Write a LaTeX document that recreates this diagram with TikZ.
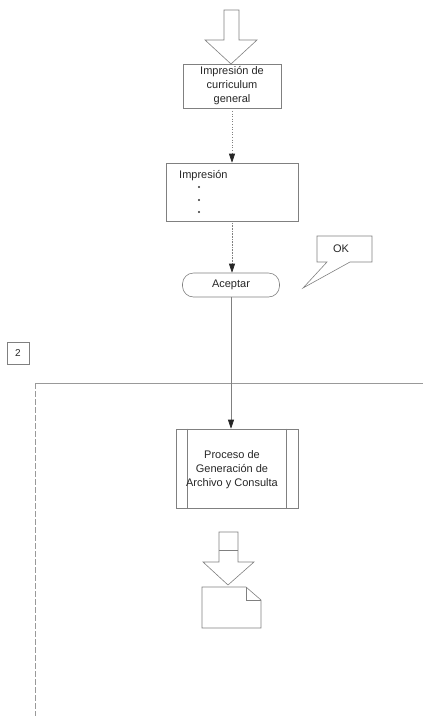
\documentclass[tikz,border=0pt]{standalone}
\usepackage{fontspec}
\setmainfont{Liberation Sans}
\usetikzlibrary{arrows.meta}
\begin{document}
\begin{tikzpicture}[x=1pt,y=-1pt,
  ln/.style={draw=black!50, line width=0.6pt},
  boxst/.style={ln, rectangle, inner sep=0pt, font=\fontsize{11}{14}\selectfont, text=black!85, align=center},
  conn/.style={draw=black!50, line width=0.6pt, -{Triangle[length=9pt,width=6pt,color=black!85,fill=black!85]}},
  txt/.style={font=\fontsize{11}{14}\selectfont, text=black!85, inner sep=0pt}
]
\useasboundingbox (0,0) rectangle (423,716);
% top block arrow
\draw[ln, fill=white] (224,10) -- (239,10) -- (239,40) -- (257,40) -- (231,64) -- (205,40) -- (224,40) -- cycle;
% boxes
\node[boxst, minimum width=98pt, minimum height=44pt] (b1) at (232,86) {Impresión de\\curriculum\\general};
\node[boxst, minimum width=132pt, minimum height=58pt] (b2) at (232,192) {};
\node[txt, anchor=base west] (b2t) at (179,178) {Impresión};
\fill[black!80] (199,187) circle (1.2pt) (199,200) circle (1.2pt) (199,212) circle (1.2pt);
\node[boxst, minimum width=97pt, minimum height=24pt, rounded corners=11pt] (acc) at (231,285) {Aceptar};
% OK callout
\draw[ln] (317,236) -- (372,236) -- (372,262) -- (350,262) -- (303,288) -- (327,262) -- (317,262) -- cycle;
\node[txt] (ok) at (341,249) {OK};
% box 2 label
\node[boxst, minimum width=22pt, minimum height=22pt, font=\fontsize{10}{12}\selectfont] (two) at (18,353) {2};
% lane lines
\coordinate (hl) at (35,383);
\coordinate (hr) at (423,383);
\coordinate (vb) at (35,716);
\draw[ln, draw=black!40] (hl) -- (hr);
\draw[ln, draw=black!40, dash pattern=on 6pt off 2pt] (hl) -- (vb);
% predefined process
\node[boxst, minimum width=122pt, minimum height=79pt] (b3) at (237,468.5) {};
\draw[ln] ([xshift=12pt]b3.north west) -- ([xshift=12pt]b3.south west);
\draw[ln] ([xshift=-12pt]b3.north east) -- ([xshift=-12pt]b3.south east);
\node[txt, align=center] (b3t) at (232,470) {Proceso de\\Generación de\\Archivo y Consulta};
% connectors
\draw[conn, dotted] (b1.south) -- (b2.north);
\draw[conn, densely dotted] (b2.south) -- (b2.south |- acc.north);
\draw[conn] (acc.south) -- (acc.south |- b3.north);
% bottom block arrow
\draw[ln, fill=white] (219,532) -- (238,532) -- (238,562) -- (254,562) -- (228,585) -- (203,562) -- (219,562) -- cycle;
\draw[ln] (219,550) -- (238,550);
% document
\draw[ln] (202,587) -- (246,587) -- (261,600) -- (261,628) -- (202,628) -- cycle;
\draw[ln] (246,587) -- (246,600) -- (261,600);
\end{tikzpicture}
\end{document}
